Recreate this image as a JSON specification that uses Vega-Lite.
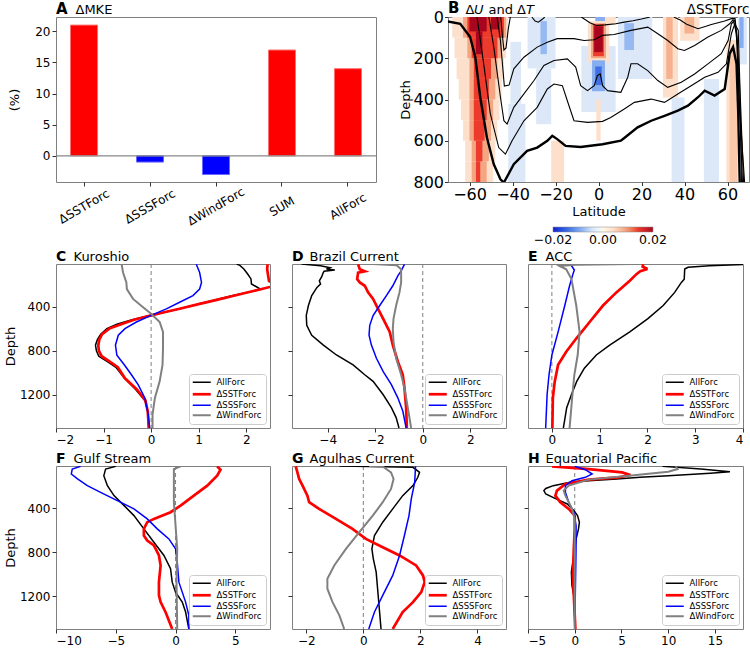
{
"$schema":"https://vega.github.io/schema/vega-lite/v6.json",
"background":"white",
"padding":{"left":3,"top":0,"right":2,"bottom":2},
"config":{
 "font":"DejaVu Sans",
 "view":{"stroke":"#7f7f7f","strokeWidth":1},
 "axis":{"domain":false,"grid":false,"tickColor":"#333","tickSize":4,"labelFontSize":12,"titleFontSize":13,"titleFontWeight":"normal","labelColor":"#000","titleColor":"#000","labelPadding":2,"labelFont":"DejaVu Sans","titleFont":"DejaVu Sans"},
 "axisY":{"titlePadding":2},
 "title":{"anchor":"start","frame":"group","fontSize":15,"fontWeight":"bold","color":"#000","offset":-14,"font":"DejaVu Sans"},
 "legend":{"orient":"bottom-right","offset":4,"padding":4,"strokeColor":"#cccccc","fillColor":"#ffffff","cornerRadius":3,"labelFontSize":8.5,"symbolType":"M-1,0L3,0","symbolSize":81,"labelOffset":15,"rowPadding":1,"labelFont":"DejaVu Sans"}
},
"datasets":{
 "bars":[{"k":"ΔSSTForc","v":21},{"k":"ΔSSSForc","v":-1},{"k":"ΔWindForc","v":-3},{"k":"SUM","v":17},{"k":"AllForc","v":14}],
 "cells":[
 {"a0":-68,"a1":-42,"d0":0,"d1":100,"u":0.004},
 {"a0":-67,"a1":-43,"d0":100,"d1":200,"u":0.004},
 {"a0":-66,"a1":-44,"d0":200,"d1":300,"u":0.004},
 {"a0":-65,"a1":-45,"d0":300,"d1":400,"u":0.004},
 {"a0":-64,"a1":-46,"d0":400,"d1":500,"u":0.004},
 {"a0":-63,"a1":-47,"d0":500,"d1":600,"u":0.004},
 {"a0":-62,"a1":-48,"d0":600,"d1":700,"u":0.004},
 {"a0":-62,"a1":-49,"d0":700,"d1":800,"u":0.004},
 {"a0":-42,"a1":-34,"d0":420,"d1":800,"u":-0.004},
 {"a0":-41,"a1":-36,"d0":120,"d1":420,"u":-0.004},
 {"a0":-33,"a1":-20,"d0":0,"d1":250,"u":-0.004},
 {"a0":-29,"a1":-22,"d0":250,"d1":520,"u":-0.004},
 {"a0":-8,"a1":8,"d0":140,"d1":460,"u":-0.004},
 {"a0":9,"a1":25,"d0":0,"d1":300,"u":-0.004},
 {"a0":34,"a1":40,"d0":390,"d1":800,"u":-0.004},
 {"a0":49,"a1":56,"d0":300,"d1":800,"u":-0.004},
 {"a0":64.9,"a1":69,"d0":0,"d1":230,"u":-0.004},
 {"a0":-22,"a1":-16,"d0":600,"d1":800,"u":0.004},
 {"a0":-1,"a1":1,"d0":400,"d1":600,"u":0.004},
 {"a0":2,"a1":8,"d0":0,"d1":40,"u":0.004},
 {"a0":30,"a1":37,"d0":0,"d1":390,"u":0.004},
 {"a0":38,"a1":47,"d0":0,"d1":115,"u":0.004},
 {"a0":59.5,"a1":65,"d0":110,"d1":800,"u":0.004},
 {"a0":-5,"a1":5,"d0":20,"d1":220,"u":0.004},
 {"a0":-63,"a1":-43,"d0":0,"d1":100,"u":0.009},
 {"a0":-61,"a1":-45,"d0":100,"d1":200,"u":0.009},
 {"a0":-60,"a1":-47,"d0":200,"d1":300,"u":0.009},
 {"a0":-60,"a1":-48,"d0":300,"d1":400,"u":0.009},
 {"a0":-60,"a1":-49,"d0":400,"d1":500,"u":0.009},
 {"a0":-60,"a1":-50,"d0":500,"d1":600,"u":0.009},
 {"a0":-59,"a1":-51,"d0":600,"d1":700,"u":0.009},
 {"a0":-59,"a1":-52,"d0":700,"d1":800,"u":0.009},
 {"a0":-27,"a1":-24,"d0":20,"d1":180,"u":-0.008},
 {"a0":-3,"a1":3,"d0":210,"d1":360,"u":-0.009},
 {"a0":12,"a1":16.5,"d0":30,"d1":160,"u":-0.008},
 {"a0":65.5,"a1":67.5,"d0":0,"d1":150,"u":-0.009},
 {"a0":-1.5,"a1":3,"d0":0,"d1":20,"u":-0.009},
 {"a0":31.5,"a1":34.5,"d0":0,"d1":300,"u":0.008},
 {"a0":40,"a1":44.5,"d0":0,"d1":80,"u":0.008},
 {"a0":61,"a1":64.5,"d0":150,"d1":800,"u":0.006},
 {"a0":-3.5,"a1":3.5,"d0":30,"d1":200,"u":0.009},
 {"a0":-61,"a1":-44,"d0":0,"d1":100,"u":0.014},
 {"a0":-59,"a1":-47,"d0":100,"d1":200,"u":0.014},
 {"a0":-58,"a1":-50,"d0":200,"d1":300,"u":0.014},
 {"a0":-58,"a1":-51,"d0":300,"d1":400,"u":0.014},
 {"a0":-58,"a1":-52,"d0":400,"d1":500,"u":0.014},
 {"a0":-58,"a1":-53,"d0":500,"d1":600,"u":0.014},
 {"a0":-57,"a1":-54,"d0":600,"d1":700,"u":0.014},
 {"a0":-57,"a1":-55,"d0":700,"d1":800,"u":0.014},
 {"a0":-1.5,"a1":1.5,"d0":240,"d1":330,"u":-0.014},
 {"a0":-2.5,"a1":2.5,"d0":35,"d1":190,"u":0.014},
 {"a0":-60,"a1":-52,"d0":0,"d1":70,"u":0.02},
 {"a0":-50,"a1":-46,"d0":0,"d1":60,"u":0.02},
 {"a0":-57,"a1":-54,"d0":70,"d1":180,"u":0.02},
 {"a0":-2,"a1":2,"d0":45,"d1":170,"u":0.02}
 ],
 "cont":[
 {"c":"L1","i":1,"lat":-70,"dep":22},{"c":"L1","i":2,"lat":-64.3,"dep":33},{"c":"L1","i":3,"lat":-59.7,"dep":97},{"c":"L1","i":4,"lat":-57.3,"dep":195},{"c":"L1","i":5,"lat":-55,"dep":389},{"c":"L1","i":6,"lat":-51.9,"dep":584},{"c":"L1","i":7,"lat":-48.7,"dep":714},{"c":"L1","i":8,"lat":-45.6,"dep":787},{"c":"L1","i":9,"lat":-44,"dep":803},{"c":"L1","i":10,"lat":-39.4,"dep":714},{"c":"L1","i":11,"lat":-33.2,"dep":649},{"c":"L1","i":12,"lat":-28.5,"dep":633},{"c":"L1","i":13,"lat":-23.8,"dep":600},{"c":"L1","i":14,"lat":-21.5,"dep":576},{"c":"L1","i":15,"lat":-19.2,"dep":592},{"c":"L1","i":16,"lat":-15.3,"dep":625},{"c":"L1","i":17,"lat":-8.3,"dep":630},{"c":"L1","i":18,"lat":1.9,"dep":617},{"c":"L1","i":19,"lat":10.4,"dep":600},{"c":"L1","i":20,"lat":12,"dep":587},{"c":"L1","i":21,"lat":18.2,"dep":535},{"c":"L1","i":22,"lat":24.5,"dep":503},{"c":"L1","i":23,"lat":30.7,"dep":479},{"c":"L1","i":24,"lat":36.9,"dep":454},{"c":"L1","i":25,"lat":41.6,"dep":430},{"c":"L1","i":26,"lat":46.3,"dep":389},{"c":"L1","i":27,"lat":49.4,"dep":357},{"c":"L1","i":28,"lat":54,"dep":381},{"c":"L1","i":29,"lat":58.7,"dep":349},{"c":"L1","i":30,"lat":61,"dep":178},{"c":"L1","i":31,"lat":62.6,"dep":146},{"c":"L1","i":32,"lat":64.2,"dep":227},{"c":"L1","i":33,"lat":65,"dep":470},{"c":"L1","i":34,"lat":65.7,"dep":810},
 {"c":"L2","i":1,"lat":-56.5,"dep":0},{"c":"L2","i":2,"lat":-53.4,"dep":227},{"c":"L2","i":3,"lat":-50.3,"dep":470},{"c":"L2","i":4,"lat":-46.4,"dep":633},{"c":"L2","i":5,"lat":-43.3,"dep":665},{"c":"L2","i":6,"lat":-40.2,"dep":600},{"c":"L2","i":7,"lat":-34.7,"dep":503},{"c":"L2","i":8,"lat":-28.5,"dep":438},{"c":"L2","i":9,"lat":-23.8,"dep":349},{"c":"L2","i":10,"lat":-20.7,"dep":325},{"c":"L2","i":11,"lat":-16.8,"dep":333},{"c":"L2","i":12,"lat":-14.5,"dep":406},{"c":"L2","i":13,"lat":-11.4,"dep":503},{"c":"L2","i":14,"lat":-5.1,"dep":511},{"c":"L2","i":15,"lat":1.9,"dep":506},{"c":"L2","i":16,"lat":5.7,"dep":487},{"c":"L2","i":17,"lat":12,"dep":446},{"c":"L2","i":18,"lat":16.7,"dep":414},{"c":"L2","i":19,"lat":24.5,"dep":398},{"c":"L2","i":20,"lat":30.7,"dep":414},{"c":"L2","i":21,"lat":36.9,"dep":373},{"c":"L2","i":22,"lat":43.1,"dep":333},{"c":"L2","i":23,"lat":49.4,"dep":292},{"c":"L2","i":24,"lat":55.6,"dep":268},{"c":"L2","i":25,"lat":59.5,"dep":227},{"c":"L2","i":26,"lat":61.8,"dep":81},{"c":"L2","i":27,"lat":63.4,"dep":33},{"c":"L2","i":28,"lat":65,"dep":65},{"c":"L2","i":29,"lat":65.7,"dep":308},{"c":"L2","i":30,"lat":66.5,"dep":810},
 {"c":"L3","i":1,"lat":-51,"dep":0},{"c":"L3","i":2,"lat":-48.7,"dep":146},{"c":"L3","i":3,"lat":-45.6,"dep":389},{"c":"L3","i":4,"lat":-44,"dep":503},{"c":"L3","i":5,"lat":-42.5,"dep":519},{"c":"L3","i":6,"lat":-39.4,"dep":438},{"c":"L3","i":7,"lat":-34.7,"dep":373},{"c":"L3","i":8,"lat":-30,"dep":308},{"c":"L3","i":9,"lat":-25.4,"dep":235},{"c":"L3","i":10,"lat":-20.7,"dep":211},{"c":"L3","i":11,"lat":-14.5,"dep":203},{"c":"L3","i":12,"lat":-10.6,"dep":243},{"c":"L3","i":13,"lat":-8.3,"dep":333},{"c":"L3","i":14,"lat":-5.1,"dep":357},{"c":"L3","i":15,"lat":-2,"dep":333},{"c":"L3","i":16,"lat":-0.5,"dep":284},{"c":"L3","i":17,"lat":0.8,"dep":276},{"c":"L3","i":18,"lat":1.9,"dep":333},{"c":"L3","i":19,"lat":4.2,"dep":357},{"c":"L3","i":20,"lat":10.4,"dep":365},{"c":"L3","i":21,"lat":13.6,"dep":292},{"c":"L3","i":22,"lat":15.1,"dep":227},{"c":"L3","i":23,"lat":18.2,"dep":227},{"c":"L3","i":24,"lat":22.9,"dep":260},{"c":"L3","i":25,"lat":27.6,"dep":308},{"c":"L3","i":26,"lat":32.2,"dep":341},{"c":"L3","i":27,"lat":38.5,"dep":316},{"c":"L3","i":28,"lat":44.7,"dep":276},{"c":"L3","i":29,"lat":50.9,"dep":227},{"c":"L3","i":30,"lat":57.1,"dep":178},{"c":"L3","i":31,"lat":60.3,"dep":114},{"c":"L3","i":32,"lat":61.8,"dep":33},{"c":"L3","i":33,"lat":63.4,"dep":16},{"c":"L3","i":34,"lat":64.6,"dep":146},{"c":"L3","i":35,"lat":65.7,"dep":470},{"c":"L3","i":36,"lat":67,"dep":810},
 {"c":"L4","i":1,"lat":-47.2,"dep":0},{"c":"L4","i":2,"lat":-45.6,"dep":114},{"c":"L4","i":3,"lat":-43.8,"dep":335},{"c":"L4","i":4,"lat":-41.6,"dep":330},{"c":"L4","i":5,"lat":-39.4,"dep":251},{"c":"L4","i":6,"lat":-34.7,"dep":195},{"c":"L4","i":7,"lat":-28.5,"dep":146},{"c":"L4","i":8,"lat":-23.8,"dep":122},{"c":"L4","i":9,"lat":-19.2,"dep":105},{"c":"L4","i":10,"lat":-11.4,"dep":105},{"c":"L4","i":11,"lat":-6.7,"dep":114},{"c":"L4","i":12,"lat":-2,"dep":110},{"c":"L4","i":13,"lat":1.9,"dep":89},{"c":"L4","i":14,"lat":7.3,"dep":85},{"c":"L4","i":15,"lat":15.1,"dep":65},{"c":"L4","i":16,"lat":22.9,"dep":49},{"c":"L4","i":17,"lat":27.6,"dep":81},{"c":"L4","i":18,"lat":32.2,"dep":114},{"c":"L4","i":19,"lat":36.9,"dep":154},{"c":"L4","i":20,"lat":40,"dep":162},{"c":"L4","i":21,"lat":44.7,"dep":138},{"c":"L4","i":22,"lat":50.9,"dep":97},{"c":"L4","i":23,"lat":57.1,"dep":65},{"c":"L4","i":24,"lat":61,"dep":33},{"c":"L4","i":25,"lat":62.6,"dep":13},{"c":"L4","i":26,"lat":64.2,"dep":81},{"c":"L4","i":27,"lat":65.3,"dep":389},{"c":"L4","i":28,"lat":68,"dep":810},
 {"c":"L5a","i":1,"lat":-45.5,"dep":0},{"c":"L5a","i":2,"lat":-44.8,"dep":80},{"c":"L5a","i":3,"lat":-44,"dep":160},{"c":"L5a","i":4,"lat":-43,"dep":150},{"c":"L5a","i":5,"lat":-42,"dep":60},{"c":"L5a","i":6,"lat":-41,"dep":0},
 {"c":"L5b","i":1,"lat":-31,"dep":0},{"c":"L5b","i":2,"lat":-29.5,"dep":20},{"c":"L5b","i":3,"lat":-28,"dep":25},{"c":"L5b","i":4,"lat":-26,"dep":10},{"c":"L5b","i":5,"lat":-25,"dep":0},
 {"c":"L5c","i":1,"lat":-8,"dep":0},{"c":"L5c","i":2,"lat":-4,"dep":28},{"c":"L5c","i":3,"lat":-1,"dep":41},{"c":"L5c","i":4,"lat":3,"dep":38},{"c":"L5c","i":5,"lat":8,"dep":33},{"c":"L5c","i":6,"lat":12,"dep":25},{"c":"L5c","i":7,"lat":16,"dep":18},{"c":"L5c","i":8,"lat":20,"dep":10},{"c":"L5c","i":9,"lat":24,"dep":0},
 {"c":"L5d","i":1,"lat":35,"dep":0},{"c":"L5d","i":2,"lat":38,"dep":15},{"c":"L5d","i":3,"lat":41,"dep":35},{"c":"L5d","i":4,"lat":46.3,"dep":57},{"c":"L5d","i":5,"lat":50,"dep":45},{"c":"L5d","i":6,"lat":52.5,"dep":36},{"c":"L5d","i":7,"lat":58.7,"dep":19},{"c":"L5d","i":8,"lat":61.8,"dep":8},{"c":"L5d","i":9,"lat":63.5,"dep":8},{"c":"L5d","i":10,"lat":64.5,"dep":100},{"c":"L5d","i":11,"lat":66,"dep":400},{"c":"L5d","i":12,"lat":67.5,"dep":810}
 ],
 "prof":[
 {"p":"C","s":"AllForc","d":18,"v":1.8},{"p":"C","s":"AllForc","d":25,"v":1.86},{"p":"C","s":"AllForc","d":60,"v":1.95},{"p":"C","s":"AllForc","d":106,"v":2.03},{"p":"C","s":"AllForc","d":150,"v":2.1},{"p":"C","s":"AllForc","d":196,"v":2.11},{"p":"C","s":"AllForc","d":230,"v":2.25},{"p":"C","s":"AllForc","d":245,"v":2.3},{"p":"C","s":"AllForc","d":265,"v":2.1},{"p":"C","s":"AllForc","d":300,"v":1.72},{"p":"C","s":"AllForc","d":340,"v":1.34},{"p":"C","s":"AllForc","d":376,"v":1.0},{"p":"C","s":"AllForc","d":420,"v":0.6},{"p":"C","s":"AllForc","d":450,"v":0.3},{"p":"C","s":"AllForc","d":480,"v":0},{"p":"C","s":"AllForc","d":520,"v":-0.4},{"p":"C","s":"AllForc","d":560,"v":-0.72},{"p":"C","s":"AllForc","d":600,"v":-0.93},{"p":"C","s":"AllForc","d":650,"v":-1.06},{"p":"C","s":"AllForc","d":700,"v":-1.13},{"p":"C","s":"AllForc","d":750,"v":-1.17},{"p":"C","s":"AllForc","d":800,"v":-1.15},{"p":"C","s":"AllForc","d":850,"v":-1.1},{"p":"C","s":"AllForc","d":900,"v":-0.92},{"p":"C","s":"AllForc","d":950,"v":-0.74},{"p":"C","s":"AllForc","d":1050,"v":-0.56},{"p":"C","s":"AllForc","d":1150,"v":-0.33},{"p":"C","s":"AllForc","d":1250,"v":-0.13},{"p":"C","s":"AllForc","d":1350,"v":-0.07},{"p":"C","s":"AllForc","d":1500,"v":-0.05},
 {"p":"C","s":"ΔSSTForc","d":18,"v":2.45},{"p":"C","s":"ΔSSTForc","d":60,"v":2.44},{"p":"C","s":"ΔSSTForc","d":120,"v":2.46},{"p":"C","s":"ΔSSTForc","d":170,"v":2.48},{"p":"C","s":"ΔSSTForc","d":200,"v":2.62},{"p":"C","s":"ΔSSTForc","d":223,"v":2.5},{"p":"C","s":"ΔSSTForc","d":260,"v":2.15},{"p":"C","s":"ΔSSTForc","d":300,"v":1.76},{"p":"C","s":"ΔSSTForc","d":340,"v":1.38},{"p":"C","s":"ΔSSTForc","d":376,"v":1.02},{"p":"C","s":"ΔSSTForc","d":420,"v":0.6},{"p":"C","s":"ΔSSTForc","d":450,"v":0.3},{"p":"C","s":"ΔSSTForc","d":480,"v":0},{"p":"C","s":"ΔSSTForc","d":520,"v":-0.36},{"p":"C","s":"ΔSSTForc","d":560,"v":-0.63},{"p":"C","s":"ΔSSTForc","d":600,"v":-0.88},{"p":"C","s":"ΔSSTForc","d":650,"v":-1.03},{"p":"C","s":"ΔSSTForc","d":700,"v":-1.09},{"p":"C","s":"ΔSSTForc","d":750,"v":-1.11},{"p":"C","s":"ΔSSTForc","d":800,"v":-1.1},{"p":"C","s":"ΔSSTForc","d":850,"v":-1.04},{"p":"C","s":"ΔSSTForc","d":900,"v":-0.87},{"p":"C","s":"ΔSSTForc","d":950,"v":-0.7},{"p":"C","s":"ΔSSTForc","d":1050,"v":-0.55},{"p":"C","s":"ΔSSTForc","d":1150,"v":-0.3},{"p":"C","s":"ΔSSTForc","d":1250,"v":-0.12},{"p":"C","s":"ΔSSTForc","d":1350,"v":-0.07},{"p":"C","s":"ΔSSTForc","d":1500,"v":-0.05},
 {"p":"C","s":"ΔSSSForc","d":18,"v":0.95},{"p":"C","s":"ΔSSSForc","d":92,"v":1.02},{"p":"C","s":"ΔSSSForc","d":182,"v":1.06},{"p":"C","s":"ΔSSSForc","d":242,"v":1.02},{"p":"C","s":"ΔSSSForc","d":301,"v":0.88},{"p":"C","s":"ΔSSSForc","d":361,"v":0.6},{"p":"C","s":"ΔSSSForc","d":421,"v":0.32},{"p":"C","s":"ΔSSSForc","d":480,"v":0},{"p":"C","s":"ΔSSSForc","d":540,"v":-0.31},{"p":"C","s":"ΔSSSForc","d":600,"v":-0.55},{"p":"C","s":"ΔSSSForc","d":660,"v":-0.69},{"p":"C","s":"ΔSSSForc","d":750,"v":-0.75},{"p":"C","s":"ΔSSSForc","d":840,"v":-0.72},{"p":"C","s":"ΔSSSForc","d":930,"v":-0.56},{"p":"C","s":"ΔSSSForc","d":1020,"v":-0.41},{"p":"C","s":"ΔSSSForc","d":1110,"v":-0.27},{"p":"C","s":"ΔSSSForc","d":1230,"v":-0.13},{"p":"C","s":"ΔSSSForc","d":1380,"v":-0.06},{"p":"C","s":"ΔSSSForc","d":1500,"v":-0.03},
 {"p":"C","s":"ΔWindForc","d":18,"v":-0.62},{"p":"C","s":"ΔWindForc","d":92,"v":-0.59},{"p":"C","s":"ΔWindForc","d":182,"v":-0.52},{"p":"C","s":"ΔWindForc","d":242,"v":-0.51},{"p":"C","s":"ΔWindForc","d":331,"v":-0.38},{"p":"C","s":"ΔWindForc","d":406,"v":-0.17},{"p":"C","s":"ΔWindForc","d":466,"v":0},{"p":"C","s":"ΔWindForc","d":540,"v":0.18},{"p":"C","s":"ΔWindForc","d":630,"v":0.25},{"p":"C","s":"ΔWindForc","d":780,"v":0.25},{"p":"C","s":"ΔWindForc","d":928,"v":0.24},{"p":"C","s":"ΔWindForc","d":1078,"v":0.18},{"p":"C","s":"ΔWindForc","d":1227,"v":0.08},{"p":"C","s":"ΔWindForc","d":1376,"v":0.03},{"p":"C","s":"ΔWindForc","d":1500,"v":0.03},
 {"p":"D","s":"AllForc","d":16,"v":-5.1},{"p":"D","s":"AllForc","d":30,"v":-4.3},{"p":"D","s":"AllForc","d":48,"v":-3.9},{"p":"D","s":"AllForc","d":60,"v":-4.05},{"p":"D","s":"AllForc","d":69,"v":-3.7},{"p":"D","s":"AllForc","d":80,"v":-4.15},{"p":"D","s":"AllForc","d":100,"v":-4.2},{"p":"D","s":"AllForc","d":130,"v":-4.25},{"p":"D","s":"AllForc","d":167,"v":-4.35},{"p":"D","s":"AllForc","d":197,"v":-4.3},{"p":"D","s":"AllForc","d":227,"v":-4.45},{"p":"D","s":"AllForc","d":301,"v":-4.67},{"p":"D","s":"AllForc","d":391,"v":-4.81},{"p":"D","s":"AllForc","d":481,"v":-4.9},{"p":"D","s":"AllForc","d":570,"v":-4.88},{"p":"D","s":"AllForc","d":660,"v":-4.67},{"p":"D","s":"AllForc","d":749,"v":-4.18},{"p":"D","s":"AllForc","d":839,"v":-3.63},{"p":"D","s":"AllForc","d":928,"v":-2.93},{"p":"D","s":"AllForc","d":1018,"v":-2.44},{"p":"D","s":"AllForc","d":1078,"v":-2.09},{"p":"D","s":"AllForc","d":1197,"v":-1.67},{"p":"D","s":"AllForc","d":1316,"v":-1.32},{"p":"D","s":"AllForc","d":1406,"v":-1.12},{"p":"D","s":"AllForc","d":1500,"v":-1.0},
 {"p":"D","s":"ΔSSTForc","d":18,"v":-2.72},{"p":"D","s":"ΔSSTForc","d":63,"v":-2.65},{"p":"D","s":"ΔSSTForc","d":81,"v":-2.44},{"p":"D","s":"ΔSSTForc","d":93,"v":-2.72},{"p":"D","s":"ΔSSTForc","d":152,"v":-2.76},{"p":"D","s":"ΔSSTForc","d":182,"v":-2.65},{"p":"D","s":"ΔSSTForc","d":212,"v":-2.44},{"p":"D","s":"ΔSSTForc","d":272,"v":-2.3},{"p":"D","s":"ΔSSTForc","d":331,"v":-2.09},{"p":"D","s":"ΔSSTForc","d":421,"v":-1.88},{"p":"D","s":"ΔSSTForc","d":510,"v":-1.67},{"p":"D","s":"ΔSSTForc","d":630,"v":-1.39},{"p":"D","s":"ΔSSTForc","d":749,"v":-1.26},{"p":"D","s":"ΔSSTForc","d":898,"v":-1.05},{"p":"D","s":"ΔSSTForc","d":1018,"v":-0.84},{"p":"D","s":"ΔSSTForc","d":1137,"v":-0.77},{"p":"D","s":"ΔSSTForc","d":1316,"v":-0.7},{"p":"D","s":"ΔSSTForc","d":1500,"v":-0.67},
 {"p":"D","s":"ΔSSSForc","d":18,"v":-0.77},{"p":"D","s":"ΔSSSForc","d":48,"v":-0.84},{"p":"D","s":"ΔSSSForc","d":78,"v":-0.91},{"p":"D","s":"ΔSSSForc","d":122,"v":-1.05},{"p":"D","s":"ΔSSSForc","d":212,"v":-1.26},{"p":"D","s":"ΔSSSForc","d":301,"v":-1.53},{"p":"D","s":"ΔSSSForc","d":391,"v":-1.81},{"p":"D","s":"ΔSSSForc","d":481,"v":-2.09},{"p":"D","s":"ΔSSSForc","d":570,"v":-2.23},{"p":"D","s":"ΔSSSForc","d":660,"v":-2.26},{"p":"D","s":"ΔSSSForc","d":749,"v":-2.16},{"p":"D","s":"ΔSSSForc","d":869,"v":-1.95},{"p":"D","s":"ΔSSSForc","d":988,"v":-1.67},{"p":"D","s":"ΔSSSForc","d":1107,"v":-1.32},{"p":"D","s":"ΔSSSForc","d":1227,"v":-1.05},{"p":"D","s":"ΔSSSForc","d":1346,"v":-0.84},{"p":"D","s":"ΔSSSForc","d":1500,"v":-0.7},
 {"p":"D","s":"ΔWindForc","d":16,"v":-2.1},{"p":"D","s":"ΔWindForc","d":26,"v":-1.1},{"p":"D","s":"ΔWindForc","d":63,"v":-0.91},{"p":"D","s":"ΔWindForc","d":182,"v":-0.91},{"p":"D","s":"ΔWindForc","d":272,"v":-0.98},{"p":"D","s":"ΔWindForc","d":391,"v":-1.12},{"p":"D","s":"ΔWindForc","d":510,"v":-1.23},{"p":"D","s":"ΔWindForc","d":600,"v":-1.26},{"p":"D","s":"ΔWindForc","d":720,"v":-1.23},{"p":"D","s":"ΔWindForc","d":869,"v":-1.12},{"p":"D","s":"ΔWindForc","d":1018,"v":-0.91},{"p":"D","s":"ΔWindForc","d":1137,"v":-0.77},{"p":"D","s":"ΔWindForc","d":1316,"v":-0.63},{"p":"D","s":"ΔWindForc","d":1500,"v":-0.49},
 {"p":"E","s":"AllForc","d":16,"v":4.3},{"p":"E","s":"AllForc","d":30,"v":3.3},{"p":"E","s":"AllForc","d":45,"v":2.85},{"p":"E","s":"AllForc","d":60,"v":2.78},{"p":"E","s":"AllForc","d":152,"v":2.77},{"p":"E","s":"AllForc","d":182,"v":2.71},{"p":"E","s":"AllForc","d":272,"v":2.57},{"p":"E","s":"AllForc","d":391,"v":2.33},{"p":"E","s":"AllForc","d":510,"v":2.01},{"p":"E","s":"AllForc","d":630,"v":1.63},{"p":"E","s":"AllForc","d":749,"v":1.21},{"p":"E","s":"AllForc","d":839,"v":0.93},{"p":"E","s":"AllForc","d":958,"v":0.68},{"p":"E","s":"AllForc","d":1078,"v":0.52},{"p":"E","s":"AllForc","d":1197,"v":0.41},{"p":"E","s":"AllForc","d":1316,"v":0.31},{"p":"E","s":"AllForc","d":1500,"v":0.24},
 {"p":"E","s":"ΔSSTForc","d":18,"v":1.91},{"p":"E","s":"ΔSSTForc","d":40,"v":1.9},{"p":"E","s":"ΔSSTForc","d":55,"v":1.98},{"p":"E","s":"ΔSSTForc","d":63,"v":1.98},{"p":"E","s":"ΔSSTForc","d":80,"v":1.85},{"p":"E","s":"ΔSSTForc","d":107,"v":1.77},{"p":"E","s":"ΔSSTForc","d":167,"v":1.63},{"p":"E","s":"ΔSSTForc","d":272,"v":1.35},{"p":"E","s":"ΔSSTForc","d":391,"v":1.07},{"p":"E","s":"ΔSSTForc","d":540,"v":0.79},{"p":"E","s":"ΔSSTForc","d":690,"v":0.51},{"p":"E","s":"ΔSSTForc","d":809,"v":0.3},{"p":"E","s":"ΔSSTForc","d":928,"v":0.13},{"p":"E","s":"ΔSSTForc","d":1078,"v":0.06},{"p":"E","s":"ΔSSTForc","d":1227,"v":0.02},{"p":"E","s":"ΔSSTForc","d":1500,"v":0.01},
 {"p":"E","s":"ΔSSSForc","d":18,"v":0.39},{"p":"E","s":"ΔSSSForc","d":69,"v":0.47},{"p":"E","s":"ΔSSSForc","d":107,"v":0.44},{"p":"E","s":"ΔSSSForc","d":212,"v":0.37},{"p":"E","s":"ΔSSSForc","d":391,"v":0.27},{"p":"E","s":"ΔSSSForc","d":630,"v":0.13},{"p":"E","s":"ΔSSSForc","d":839,"v":0.0},{"p":"E","s":"ΔSSSForc","d":1018,"v":-0.06},{"p":"E","s":"ΔSSSForc","d":1197,"v":-0.1},{"p":"E","s":"ΔSSSForc","d":1500,"v":-0.13},
 {"p":"E","s":"ΔWindForc","d":16,"v":1.7},{"p":"E","s":"ΔWindForc","d":22,"v":0.5},{"p":"E","s":"ΔWindForc","d":33,"v":0.16},{"p":"E","s":"ΔWindForc","d":63,"v":0.3},{"p":"E","s":"ΔWindForc","d":152,"v":0.41},{"p":"E","s":"ΔWindForc","d":391,"v":0.51},{"p":"E","s":"ΔWindForc","d":630,"v":0.58},{"p":"E","s":"ΔWindForc","d":839,"v":0.54},{"p":"E","s":"ΔWindForc","d":1018,"v":0.47},{"p":"E","s":"ΔWindForc","d":1197,"v":0.43},{"p":"E","s":"ΔWindForc","d":1500,"v":0.37},
 {"p":"F","s":"AllForc","d":18,"v":-5.0},{"p":"F","s":"AllForc","d":43,"v":-5.85},{"p":"F","s":"AllForc","d":103,"v":-6.0},{"p":"F","s":"AllForc","d":194,"v":-5.7},{"p":"F","s":"AllForc","d":285,"v":-5.15},{"p":"F","s":"AllForc","d":376,"v":-4.3},{"p":"F","s":"AllForc","d":467,"v":-3.48},{"p":"F","s":"AllForc","d":588,"v":-2.65},{"p":"F","s":"AllForc","d":709,"v":-1.81},{"p":"F","s":"AllForc","d":830,"v":-0.97},{"p":"F","s":"AllForc","d":951,"v":-0.42},{"p":"F","s":"AllForc","d":1073,"v":-0.28},{"p":"F","s":"AllForc","d":1164,"v":0},{"p":"F","s":"AllForc","d":1255,"v":0.56},{"p":"F","s":"AllForc","d":1345,"v":0.84},{"p":"F","s":"AllForc","d":1500,"v":1.11},
 {"p":"F","s":"ΔSSTForc","d":18,"v":3.48},{"p":"F","s":"ΔSSTForc","d":49,"v":3.76},{"p":"F","s":"ΔSSTForc","d":103,"v":3.48},{"p":"F","s":"ΔSSTForc","d":194,"v":2.65},{"p":"F","s":"ΔSSTForc","d":285,"v":1.53},{"p":"F","s":"ΔSSTForc","d":376,"v":0.42},{"p":"F","s":"ΔSSTForc","d":436,"v":-0.42},{"p":"F","s":"ΔSSTForc","d":497,"v":-1.81},{"p":"F","s":"ΔSSTForc","d":527,"v":-2.37},{"p":"F","s":"ΔSSTForc","d":588,"v":-2.65},{"p":"F","s":"ΔSSTForc","d":648,"v":-2.65},{"p":"F","s":"ΔSSTForc","d":694,"v":-2.37},{"p":"F","s":"ΔSSTForc","d":739,"v":-1.81},{"p":"F","s":"ΔSSTForc","d":830,"v":-1.39},{"p":"F","s":"ΔSSTForc","d":921,"v":-1.25},{"p":"F","s":"ΔSSTForc","d":1073,"v":-1.39},{"p":"F","s":"ΔSSTForc","d":1194,"v":-1.39},{"p":"F","s":"ΔSSTForc","d":1255,"v":-1.25},{"p":"F","s":"ΔSSTForc","d":1345,"v":-0.84},{"p":"F","s":"ΔSSTForc","d":1500,"v":-0.28},
 {"p":"F","s":"ΔSSSForc","d":18,"v":-7.94},{"p":"F","s":"ΔSSSForc","d":43,"v":-8.64},{"p":"F","s":"ΔSSSForc","d":88,"v":-8.72},{"p":"F","s":"ΔSSSForc","d":133,"v":-8.2},{"p":"F","s":"ΔSSSForc","d":194,"v":-7.38},{"p":"F","s":"ΔSSSForc","d":255,"v":-6.27},{"p":"F","s":"ΔSSSForc","d":330,"v":-4.87},{"p":"F","s":"ΔSSSForc","d":406,"v":-3.48},{"p":"F","s":"ΔSSSForc","d":497,"v":-2.37},{"p":"F","s":"ΔSSSForc","d":588,"v":-1.53},{"p":"F","s":"ΔSSSForc","d":679,"v":-0.56},{"p":"F","s":"ΔSSSForc","d":770,"v":0},{"p":"F","s":"ΔSSSForc","d":891,"v":0.14},{"p":"F","s":"ΔSSSForc","d":1073,"v":0.28},{"p":"F","s":"ΔSSSForc","d":1164,"v":0.56},{"p":"F","s":"ΔSSSForc","d":1255,"v":0.84},{"p":"F","s":"ΔSSSForc","d":1376,"v":1.11},{"p":"F","s":"ΔSSSForc","d":1500,"v":1.11},
 {"p":"F","s":"ΔWindForc","d":18,"v":0.42},{"p":"F","s":"ΔWindForc","d":43,"v":-0.14},{"p":"F","s":"ΔWindForc","d":345,"v":-0.14},{"p":"F","s":"ΔWindForc","d":558,"v":0},{"p":"F","s":"ΔWindForc","d":770,"v":0.14},{"p":"F","s":"ΔWindForc","d":1073,"v":0.08},{"p":"F","s":"ΔWindForc","d":1500,"v":0.14},
 {"p":"G","s":"AllForc","d":16,"v":-0.84},{"p":"G","s":"AllForc","d":27,"v":1.74},{"p":"G","s":"AllForc","d":73,"v":1.97},{"p":"G","s":"AllForc","d":118,"v":1.91},{"p":"G","s":"AllForc","d":194,"v":1.74},{"p":"G","s":"AllForc","d":285,"v":1.38},{"p":"G","s":"AllForc","d":406,"v":1.03},{"p":"G","s":"AllForc","d":527,"v":0.68},{"p":"G","s":"AllForc","d":648,"v":0.39},{"p":"G","s":"AllForc","d":770,"v":0.3},{"p":"G","s":"AllForc","d":861,"v":0.35},{"p":"G","s":"AllForc","d":982,"v":0.45},{"p":"G","s":"AllForc","d":1133,"v":0.5},{"p":"G","s":"AllForc","d":1315,"v":0.56},{"p":"G","s":"AllForc","d":1500,"v":0.62},
 {"p":"G","s":"ΔSSTForc","d":18,"v":-2.37},{"p":"G","s":"ΔSSTForc","d":73,"v":-2.31},{"p":"G","s":"ΔSSTForc","d":133,"v":-2.25},{"p":"G","s":"ΔSSTForc","d":194,"v":-2.13},{"p":"G","s":"ΔSSTForc","d":285,"v":-1.96},{"p":"G","s":"ΔSSTForc","d":345,"v":-1.9},{"p":"G","s":"ΔSSTForc","d":406,"v":-1.55},{"p":"G","s":"ΔSSTForc","d":497,"v":-0.96},{"p":"G","s":"ΔSSTForc","d":588,"v":-0.38},{"p":"G","s":"ΔSSTForc","d":679,"v":0.09},{"p":"G","s":"ΔSSTForc","d":755,"v":0.68},{"p":"G","s":"ΔSSTForc","d":830,"v":1.27},{"p":"G","s":"ΔSSTForc","d":921,"v":1.85},{"p":"G","s":"ΔSSTForc","d":1012,"v":2.09},{"p":"G","s":"ΔSSTForc","d":1073,"v":2.15},{"p":"G","s":"ΔSSTForc","d":1164,"v":2.03},{"p":"G","s":"ΔSSTForc","d":1255,"v":1.74},{"p":"G","s":"ΔSSTForc","d":1345,"v":1.38},{"p":"G","s":"ΔSSTForc","d":1500,"v":1.03},
 {"p":"G","s":"ΔSSSForc","d":18,"v":1.83},{"p":"G","s":"ΔSSSForc","d":164,"v":1.8},{"p":"G","s":"ΔSSSForc","d":315,"v":1.68},{"p":"G","s":"ΔSSSForc","d":467,"v":1.6},{"p":"G","s":"ΔSSSForc","d":648,"v":1.44},{"p":"G","s":"ΔSSSForc","d":830,"v":1.27},{"p":"G","s":"ΔSSSForc","d":1012,"v":1.03},{"p":"G","s":"ΔSSSForc","d":1194,"v":0.68},{"p":"G","s":"ΔSSSForc","d":1345,"v":0.39},{"p":"G","s":"ΔSSSForc","d":1500,"v":0.19},
 {"p":"G","s":"ΔWindForc","d":16,"v":0.2},{"p":"G","s":"ΔWindForc","d":20,"v":0.68},{"p":"G","s":"ΔWindForc","d":73,"v":0.97},{"p":"G","s":"ΔWindForc","d":133,"v":1.06},{"p":"G","s":"ΔWindForc","d":224,"v":0.97},{"p":"G","s":"ΔWindForc","d":345,"v":0.68},{"p":"G","s":"ΔWindForc","d":467,"v":0.33},{"p":"G","s":"ΔWindForc","d":618,"v":-0.14},{"p":"G","s":"ΔWindForc","d":770,"v":-0.61},{"p":"G","s":"ΔWindForc","d":921,"v":-1.02},{"p":"G","s":"ΔWindForc","d":1042,"v":-1.26},{"p":"G","s":"ΔWindForc","d":1133,"v":-1.26},{"p":"G","s":"ΔWindForc","d":1255,"v":-1.08},{"p":"G","s":"ΔWindForc","d":1376,"v":-0.84},{"p":"G","s":"ΔWindForc","d":1500,"v":-0.67},
 {"p":"H","s":"AllForc","d":18,"v":9.4},{"p":"H","s":"AllForc","d":43,"v":13.5},{"p":"H","s":"AllForc","d":67,"v":16.6},{"p":"H","s":"AllForc","d":80,"v":14.5},{"p":"H","s":"AllForc","d":103,"v":10},{"p":"H","s":"AllForc","d":118,"v":7},{"p":"H","s":"AllForc","d":133,"v":4.5},{"p":"H","s":"AllForc","d":149,"v":1.5},{"p":"H","s":"AllForc","d":164,"v":-0.5},{"p":"H","s":"AllForc","d":194,"v":-2.3},{"p":"H","s":"AllForc","d":220,"v":-3.1},{"p":"H","s":"AllForc","d":239,"v":-3.3},{"p":"H","s":"AllForc","d":270,"v":-3.1},{"p":"H","s":"AllForc","d":315,"v":-2.0},{"p":"H","s":"AllForc","d":361,"v":-0.8},{"p":"H","s":"AllForc","d":421,"v":-0.1},{"p":"H","s":"AllForc","d":467,"v":0.3},{"p":"H","s":"AllForc","d":527,"v":0.5},{"p":"H","s":"AllForc","d":588,"v":0.4},{"p":"H","s":"AllForc","d":679,"v":0.15},{"p":"H","s":"AllForc","d":830,"v":-0.1},{"p":"H","s":"AllForc","d":982,"v":-0.36},{"p":"H","s":"AllForc","d":1103,"v":-0.3},{"p":"H","s":"AllForc","d":1194,"v":-0.1},{"p":"H","s":"AllForc","d":1500,"v":0.05},
 {"p":"H","s":"ΔSSTForc","d":18,"v":-2.43},{"p":"H","s":"ΔSSTForc","d":43,"v":1.5},{"p":"H","s":"ΔSSTForc","d":73,"v":5.07},{"p":"H","s":"ΔSSTForc","d":97,"v":5.96},{"p":"H","s":"ΔSSTForc","d":118,"v":4.7},{"p":"H","s":"ΔSSTForc","d":139,"v":1.5},{"p":"H","s":"ΔSSTForc","d":179,"v":-1.0},{"p":"H","s":"ΔSSTForc","d":239,"v":-1.9},{"p":"H","s":"ΔSSTForc","d":285,"v":-2.07},{"p":"H","s":"ΔSSTForc","d":345,"v":-1.54},{"p":"H","s":"ΔSSTForc","d":406,"v":-0.64},{"p":"H","s":"ΔSSTForc","d":467,"v":0},{"p":"H","s":"ΔSSTForc","d":588,"v":0},{"p":"H","s":"ΔSSTForc","d":770,"v":-0.1},{"p":"H","s":"ΔSSTForc","d":1012,"v":-0.2},{"p":"H","s":"ΔSSTForc","d":1194,"v":-0.1},{"p":"H","s":"ΔSSTForc","d":1500,"v":0.07},
 {"p":"H","s":"ΔSSSForc","d":18,"v":0},{"p":"H","s":"ΔSSSForc","d":49,"v":1.14},{"p":"H","s":"ΔSSSForc","d":88,"v":1.86},{"p":"H","s":"ΔSSSForc","d":118,"v":1.14},{"p":"H","s":"ΔSSSForc","d":149,"v":-0.29},{"p":"H","s":"ΔSSSForc","d":194,"v":-1.0},{"p":"H","s":"ΔSSSForc","d":255,"v":-1.0},{"p":"H","s":"ΔSSSForc","d":345,"v":-0.64},{"p":"H","s":"ΔSSSForc","d":436,"v":-0.1},{"p":"H","s":"ΔSSSForc","d":558,"v":0.14},{"p":"H","s":"ΔSSSForc","d":770,"v":0.14},{"p":"H","s":"ΔSSSForc","d":1500,"v":0},
 {"p":"H","s":"ΔWindForc","d":18,"v":10.8},{"p":"H","s":"ΔWindForc","d":43,"v":11.0},{"p":"H","s":"ΔWindForc","d":67,"v":10.0},{"p":"H","s":"ΔWindForc","d":103,"v":5.8},{"p":"H","s":"ΔWindForc","d":139,"v":1.5},{"p":"H","s":"ΔWindForc","d":194,"v":-0.64},{"p":"H","s":"ΔWindForc","d":239,"v":-1.18},{"p":"H","s":"ΔWindForc","d":285,"v":-1.0},{"p":"H","s":"ΔWindForc","d":406,"v":-0.29},{"p":"H","s":"ΔWindForc","d":497,"v":0},{"p":"H","s":"ΔWindForc","d":1500,"v":0}
 ]
},
"bounds":"flush",
"spacing":247,
"resolve":{"scale":{"color":"independent"},"legend":{"color":"independent"}},
"vconcat":[
 {"hconcat":[
  {"width":320,"height":165,
   "title":{"text":"A"},
   "layer":[
    {"data":{"name":"bars"},"mark":{"type":"bar","strokeWidth":1},
     "encoding":{
      "x":{"field":"k","type":"nominal","sort":null,"scale":{"paddingInner":0.59,"paddingOuter":0.22},"axis":{"title":null,"labelAngle":-30,"labelAlign":"center","labelBaseline":"middle","labelPadding":20,"labelOverlap":false,"labelBound":false}},
      "y":{"field":"v","type":"quantitative","scale":{"domain":[-4.2,22.3],"nice":false},"axis":{"values":[0,5,10,15,20],"title":"(%)","titlePadding":13}},
      "color":{"condition":{"test":"datum.v<0","value":"#0000ff"},"value":"#ff0000"},
      "stroke":{"condition":{"test":"datum.v<0","value":"#6a6aff"},"value":"#ff7070"}
     }},
    {"data":{"values":[{}]},"mark":{"type":"rule","color":"#888888","strokeWidth":1.2},"encoding":{"y":{"datum":0}}},
    {"data":{"values":[{}]},"mark":{"type":"rule","opacity":0},"encoding":{"x":{"datum":"SUM","type":"nominal","axis":{"orient":"top","title":"ΔMKE","titleAnchor":"start","titleAlign":"left","titleX":19,"labels":false,"ticks":false,"domain":false,"titlePadding":1,"titleFontSize":13}}}}
   ],
   "resolve":{"axis":{"x":"independent"}}},
  {"width":301,"height":165,
   "title":{"text":"B"},
   "layer":[
    {"data":{"name":"cells"},"mark":{"type":"rect","clip":true},
     "encoding":{
      "x":{"field":"a0","type":"quantitative","scale":{"domain":[-70,70],"nice":false,"zero":false},"axis":{"values":[-60,-40,-20,0,20,40,60],"title":"Latitude","labelFontSize":16,"labelPadding":1,"tickSize":3.5,"titlePadding":3}},
      "x2":{"field":"a1"},
      "y":{"field":"d0","type":"quantitative","scale":{"domain":[0,800],"reverse":true,"nice":false,"zero":false},"axis":{"values":[0,200,400,600,800],"title":"Depth","labelFontSize":16,"labelPadding":1,"tickSize":3.5,"titlePadding":0}},
      "y2":{"field":"d1"},
      "color":{"field":"u","type":"quantitative",
        "scale":{"domain":[-0.02,-0.014,-0.009,-0.004,0,0.004,0.009,0.014,0.02],"range":["#1b1bd0","#3f6fe2","#86adf0","#dce8f8","#ffffff","#fde0cc","#f4a582","#ec3a2c","#a8061f"]},
        "legend":{"orient":"none","legendX":105,"legendY":210,"direction":"horizontal","gradientLength":100,"gradientThickness":5,"title":null,"values":[-0.02,0,0.02],"format":".2f","labelFontSize":12.5,"labelOffset":2,"labelOverlap":false,"padding":0,"strokeColor":"transparent","fillColor":"transparent","gradientStrokeColor":"#888","gradientStrokeWidth":0.5,"encode":{"labels":{"update":{"align":{"value":"center"}}}}}}
     }},
    {"data":{"name":"cont"},"mark":{"type":"line","color":"#000000","clip":true},
     "encoding":{
      "x":{"field":"lat","type":"quantitative","axis":{"orient":"top","title":"ΔSSTForc","titleAnchor":"end","labels":false,"ticks":false,"domain":false,"titlePadding":1,"titleFontSize":13.5}},
      "y":{"field":"dep","type":"quantitative","title":"Depth"},
      "detail":{"field":"c","type":"nominal"},
      "order":{"field":"i","type":"quantitative"},
      "strokeWidth":{"condition":{"test":"datum.c==='L1'","value":2.4},"value":1.1}
     }},
    {"data":{"values":[{}]},"mark":{"type":"rule","opacity":0},"encoding":{"x":{"datum":0,"type":"quantitative","axis":{"orient":"top","title":"Δ𝘜 and Δ𝘛","titleAnchor":"start","titleAlign":"left","titleX":17,"labels":false,"ticks":false,"domain":false,"titlePadding":1,"titleFontSize":13}}}}
   ],
   "resolve":{"axis":{"x":"independent"}}}
 ],"spacing":72,"bounds":"flush","resolve":{"scale":{"color":"independent"},"legend":{"color":"independent"}}},
 {"vconcat":[
  {"hconcat":[
   {"width":214,"height":164,"title":{"text":"C","fontSize":14},
    "layer":[
     {"data":{"values":[{}]},"mark":{"type":"rule","color":"#7f7f7f","strokeDash":[4,3],"strokeWidth":1},"encoding":{"x":{"datum":0,"type":"quantitative","axis":{"orient":"top","title":"Kuroshio","titleAnchor":"start","titleAlign":"left","titleX":17,"labels":false,"ticks":false,"domain":false,"titlePadding":1,"titleFontSize":13}}}},
     {"data":{"name":"prof"},"transform":[{"filter":"datum.p==='C'"}],"mark":{"type":"line","clip":true},
      "encoding":{
       "x":{"field":"v","type":"quantitative","scale":{"domain":[-2,2.5],"nice":false,"zero":false},"axis":{"values":[-2,-1,0,1,2],"title":null}},
       "y":{"field":"d","type":"quantitative","scale":{"domain":[15,1500],"reverse":true,"nice":false,"zero":false},"axis":{"values":[400,800,1200],"format":"d","title":"Depth"}},
       "color":{"field":"s","type":"nominal","scale":{"domain":["AllForc","ΔSSTForc","ΔSSSForc","ΔWindForc"],"range":["#000000","#ff0000","#0000ff","#808080"]},"legend":{"title":null,"encode":{"symbols":{"update":{"strokeWidth":{"signal":"datum.value === 'ΔSSTForc' ? 2.7 : datum.value === 'ΔWindForc' ? 2 : 1.5"}}}}}},
       "strokeWidth":{"condition":[{"test":"datum.s==='ΔSSTForc'","value":2.7},{"test":"datum.s==='ΔWindForc'","value":2}],"value":1.5},
       "order":{"field":"d","type":"quantitative"}
      }}
    ],"resolve":{"axis":{"x":"independent"}}},
   {"width":214,"height":164,"title":{"text":"D","fontSize":14},
    "layer":[
     {"data":{"values":[{}]},"mark":{"type":"rule","color":"#7f7f7f","strokeDash":[4,3],"strokeWidth":1},"encoding":{"x":{"datum":0,"type":"quantitative","axis":{"orient":"top","title":"Brazil Current","titleAnchor":"start","titleAlign":"left","titleX":17,"labels":false,"ticks":false,"domain":false,"titlePadding":1,"titleFontSize":13}}}},
     {"data":{"name":"prof"},"transform":[{"filter":"datum.p==='D'"}],"mark":{"type":"line","clip":true},
      "encoding":{
       "x":{"field":"v","type":"quantitative","scale":{"domain":[-5.5,3.5],"nice":false,"zero":false},"axis":{"values":[-4,-2,0,2],"title":null}},
       "y":{"field":"d","type":"quantitative","scale":{"domain":[15,1500],"reverse":true,"nice":false,"zero":false},"axis":{"values":[400,800,1200],"title":null,"labels":false}},
       "color":{"field":"s","type":"nominal","scale":{"domain":["AllForc","ΔSSTForc","ΔSSSForc","ΔWindForc"],"range":["#000000","#ff0000","#0000ff","#808080"]},"legend":{"title":null,"encode":{"symbols":{"update":{"strokeWidth":{"signal":"datum.value === 'ΔSSTForc' ? 2.7 : datum.value === 'ΔWindForc' ? 2 : 1.5"}}}}}},
       "strokeWidth":{"condition":[{"test":"datum.s==='ΔSSTForc'","value":2.7},{"test":"datum.s==='ΔWindForc'","value":2}],"value":1.5},
       "order":{"field":"d","type":"quantitative"}
      }}
    ],"resolve":{"axis":{"x":"independent"}}},
   {"width":215,"height":164,"title":{"text":"E","fontSize":14},
    "layer":[
     {"data":{"values":[{}]},"mark":{"type":"rule","color":"#7f7f7f","strokeDash":[4,3],"strokeWidth":1},"encoding":{"x":{"datum":0,"type":"quantitative","axis":{"orient":"top","title":"ACC","titleAnchor":"start","titleAlign":"left","titleX":17,"labels":false,"ticks":false,"domain":false,"titlePadding":1,"titleFontSize":13}}}},
     {"data":{"name":"prof"},"transform":[{"filter":"datum.p==='E'"}],"mark":{"type":"line","clip":true},
      "encoding":{
       "x":{"field":"v","type":"quantitative","scale":{"domain":[-0.5,4],"nice":false,"zero":false},"axis":{"values":[0,1,2,3,4],"title":null}},
       "y":{"field":"d","type":"quantitative","scale":{"domain":[15,1500],"reverse":true,"nice":false,"zero":false},"axis":{"values":[400,800,1200],"title":null,"labels":false}},
       "color":{"field":"s","type":"nominal","scale":{"domain":["AllForc","ΔSSTForc","ΔSSSForc","ΔWindForc"],"range":["#000000","#ff0000","#0000ff","#808080"]},"legend":{"title":null,"encode":{"symbols":{"update":{"strokeWidth":{"signal":"datum.value === 'ΔSSTForc' ? 2.7 : datum.value === 'ΔWindForc' ? 2 : 1.5"}}}}}},
       "strokeWidth":{"condition":[{"test":"datum.s==='ΔSSTForc'","value":2.7},{"test":"datum.s==='ΔWindForc'","value":2}],"value":1.5},
       "order":{"field":"d","type":"quantitative"}
      }}
    ],"resolve":{"axis":{"x":"independent"}}}
  ],"spacing":22,"bounds":"flush","resolve":{"scale":{"color":"independent"},"legend":{"color":"independent"}}},
  {"hconcat":[
   {"width":214,"height":163,"title":{"text":"F","fontSize":14},
    "layer":[
     {"data":{"values":[{}]},"mark":{"type":"rule","color":"#7f7f7f","strokeDash":[4,3],"strokeWidth":1},"encoding":{"x":{"datum":0,"type":"quantitative","axis":{"orient":"top","title":"Gulf Stream","titleAnchor":"start","titleAlign":"left","titleX":17,"labels":false,"ticks":false,"domain":false,"titlePadding":1,"titleFontSize":13}}}},
     {"data":{"name":"prof"},"transform":[{"filter":"datum.p==='F'"}],"mark":{"type":"line","clip":true},
      "encoding":{
       "x":{"field":"v","type":"quantitative","scale":{"domain":[-10,7.9],"nice":false,"zero":false},"axis":{"values":[-10,-5,0,5],"title":null}},
       "y":{"field":"d","type":"quantitative","scale":{"domain":[15,1500],"reverse":true,"nice":false,"zero":false},"axis":{"values":[400,800,1200],"format":"d","title":"Depth"}},
       "color":{"field":"s","type":"nominal","scale":{"domain":["AllForc","ΔSSTForc","ΔSSSForc","ΔWindForc"],"range":["#000000","#ff0000","#0000ff","#808080"]},"legend":{"title":null,"encode":{"symbols":{"update":{"strokeWidth":{"signal":"datum.value === 'ΔSSTForc' ? 2.7 : datum.value === 'ΔWindForc' ? 2 : 1.5"}}}}}},
       "strokeWidth":{"condition":[{"test":"datum.s==='ΔSSTForc'","value":2.7},{"test":"datum.s==='ΔWindForc'","value":2}],"value":1.5},
       "order":{"field":"d","type":"quantitative"}
      }}
    ],"resolve":{"axis":{"x":"independent"}}},
   {"width":214,"height":163,"title":{"text":"G","fontSize":14},
    "layer":[
     {"data":{"values":[{}]},"mark":{"type":"rule","color":"#7f7f7f","strokeDash":[4,3],"strokeWidth":1},"encoding":{"x":{"datum":0,"type":"quantitative","axis":{"orient":"top","title":"Agulhas Current","titleAnchor":"start","titleAlign":"left","titleX":17,"labels":false,"ticks":false,"domain":false,"titlePadding":1,"titleFontSize":13}}}},
     {"data":{"name":"prof"},"transform":[{"filter":"datum.p==='G'"}],"mark":{"type":"line","clip":true},
      "encoding":{
       "x":{"field":"v","type":"quantitative","scale":{"domain":[-2.5,5],"nice":false,"zero":false},"axis":{"values":[-2,0,2,4],"title":null}},
       "y":{"field":"d","type":"quantitative","scale":{"domain":[15,1500],"reverse":true,"nice":false,"zero":false},"axis":{"values":[400,800,1200],"title":null,"labels":false}},
       "color":{"field":"s","type":"nominal","scale":{"domain":["AllForc","ΔSSTForc","ΔSSSForc","ΔWindForc"],"range":["#000000","#ff0000","#0000ff","#808080"]},"legend":{"title":null,"encode":{"symbols":{"update":{"strokeWidth":{"signal":"datum.value === 'ΔSSTForc' ? 2.7 : datum.value === 'ΔWindForc' ? 2 : 1.5"}}}}}},
       "strokeWidth":{"condition":[{"test":"datum.s==='ΔSSTForc'","value":2.7},{"test":"datum.s==='ΔWindForc'","value":2}],"value":1.5},
       "order":{"field":"d","type":"quantitative"}
      }}
    ],"resolve":{"axis":{"x":"independent"}}},
   {"width":215,"height":163,"title":{"text":"H","fontSize":14},
    "layer":[
     {"data":{"values":[{}]},"mark":{"type":"rule","color":"#7f7f7f","strokeDash":[4,3],"strokeWidth":1},"encoding":{"x":{"datum":0,"type":"quantitative","axis":{"orient":"top","title":"Equatorial Pacific","titleAnchor":"start","titleAlign":"left","titleX":17,"labels":false,"ticks":false,"domain":false,"titlePadding":1,"titleFontSize":13}}}},
     {"data":{"name":"prof"},"transform":[{"filter":"datum.p==='H'"}],"mark":{"type":"line","clip":true},
      "encoding":{
       "x":{"field":"v","type":"quantitative","scale":{"domain":[-5,18],"nice":false,"zero":false},"axis":{"values":[-5,0,5,10,15],"title":null}},
       "y":{"field":"d","type":"quantitative","scale":{"domain":[15,1500],"reverse":true,"nice":false,"zero":false},"axis":{"values":[400,800,1200],"title":null,"labels":false}},
       "color":{"field":"s","type":"nominal","scale":{"domain":["AllForc","ΔSSTForc","ΔSSSForc","ΔWindForc"],"range":["#000000","#ff0000","#0000ff","#808080"]},"legend":{"title":null,"encode":{"symbols":{"update":{"strokeWidth":{"signal":"datum.value === 'ΔSSTForc' ? 2.7 : datum.value === 'ΔWindForc' ? 2 : 1.5"}}}}}},
       "strokeWidth":{"condition":[{"test":"datum.s==='ΔSSTForc'","value":2.7},{"test":"datum.s==='ΔWindForc'","value":2}],"value":1.5},
       "order":{"field":"d","type":"quantitative"}
      }}
    ],"resolve":{"axis":{"x":"independent"}}}
  ],"spacing":22,"bounds":"flush","resolve":{"scale":{"color":"independent"},"legend":{"color":"independent"}}}
 ],"spacing":202,"bounds":"flush","resolve":{"scale":{"color":"independent"},"legend":{"color":"independent"}}}
]
}
